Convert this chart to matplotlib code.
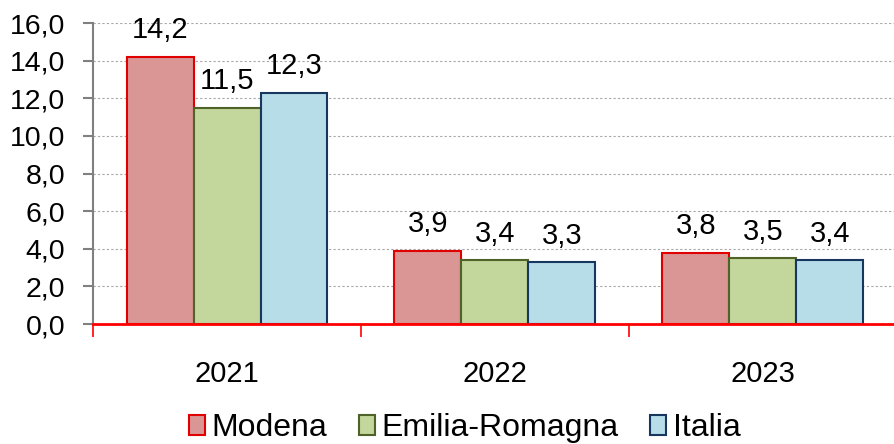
import numpy as np
import matplotlib.pyplot as plt
from matplotlib.ticker import FuncFormatter, FixedLocator
from matplotlib.patches import Patch

# dati
anni = ['2021', '2022', '2023']
serie = ['Modena', 'Emilia-Romagna', 'Italia']
modena = [14.2, 3.9, 3.8]
emilia_romagna = [11.5, 3.4, 3.5]
italia = [12.3, 3.3, 3.4]

colori = ['#D99694', '#C3D69B', '#B7DDE8']
bordi = ['#E00000', '#4F6228', '#17375E']

plt.rcParams['font.family'] = ['Liberation Sans', 'DejaVu Sans']

fig = plt.figure(figsize=(8.95, 4.44), dpi=100)
ax = fig.add_axes([0.104, 0.270, 0.898, 0.678])

x = np.arange(len(anni))
w = 0.25
for i, (vals, c, e) in enumerate(zip([modena, emilia_romagna, italia], colori, bordi)):
    pos = x + (i - 1) * w
    bars = ax.bar(pos, vals, width=w, color=c, edgecolor=e, linewidth=1.5, zorder=3)
    for b, v in zip(bars, vals):
        ax.annotate(f'{v:.1f}'.replace('.', ','), (b.get_x() + b.get_width() / 2, v),
                    xytext=(0, 9), textcoords='offset points',
                    ha='center', va='bottom', fontsize=21)

ax.set_xlim(-0.5, 2.5)
ax.set_ylim(0, 16)
ax.set_yticks(np.arange(0, 17, 2))
ax.yaxis.set_major_formatter(FuncFormatter(lambda v, p: f'{v:.1f}'.replace('.', ',')))
ax.grid(axis='y', color='#A6A6A6', linestyle=(0, (2, 2)), linewidth=0.8, zorder=0)

ax.set_xticks(x)
ax.set_xticklabels(anni)
ax.xaxis.set_minor_locator(FixedLocator([-0.5, 0.5, 1.5, 2.5]))
ax.tick_params(axis='x', which='major', length=0, pad=26, labelsize=21)
ax.tick_params(axis='x', which='minor', length=9, color='#FF0000', width=1.2)
ax.tick_params(axis='y', length=7, color='#808080', width=1.5, labelsize=20.5, pad=13)

for s in ['top', 'right']:
    ax.spines[s].set_visible(False)
ax.spines['left'].set_color('#808080')
ax.spines['left'].set_linewidth(1.5)
ax.spines['bottom'].set_color('#FF0000')
ax.spines['bottom'].set_linewidth(2)
ax.spines['bottom'].set_zorder(4)

handles = [Patch(facecolor=c, edgecolor=e, linewidth=1.5) for c, e in zip(colori, bordi)]
fig.legend(handles, serie, loc='center', bbox_to_anchor=(0.519, 0.036), ncol=3,
           frameon=False, fontsize=23, handlelength=0.5, handleheight=0.6,
           handletextpad=0.2, columnspacing=1.0, borderpad=0)

plt.savefig('out.png', dpi=100)
